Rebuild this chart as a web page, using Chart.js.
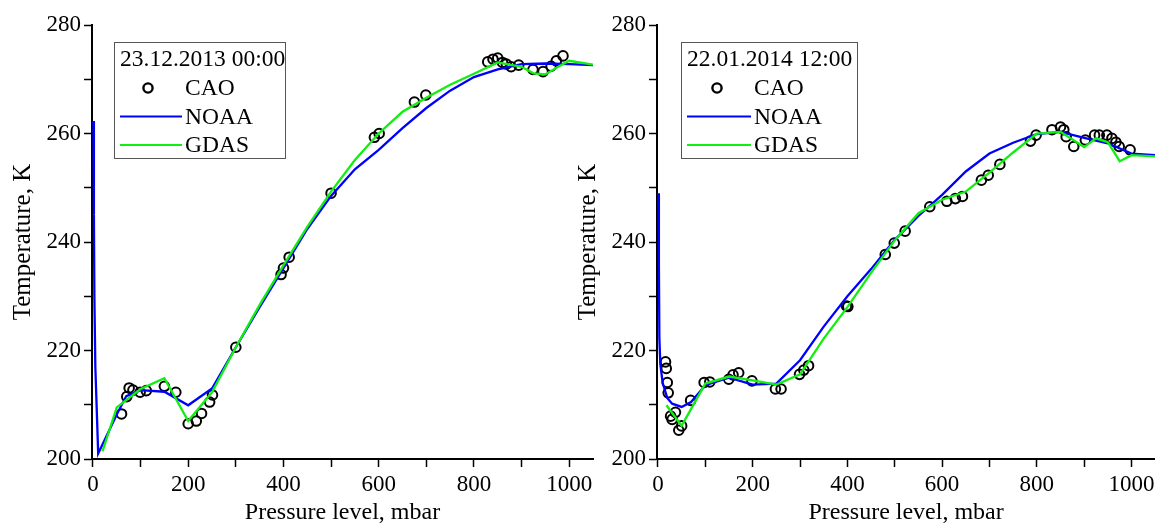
<!DOCTYPE html>
<html>
<head>
<meta charset="utf-8">
<script src="https://cdn.jsdelivr.net/npm/chart.js@4.4.1/dist/chart.umd.min.js"></script>
<style>
  body { margin: 0; background: #fff; overflow: hidden; }
  .panel { position: absolute; top: 0; }
</style>
</head>
<body>
<div class="panel" style="left:0"><canvas id="chartLeft" width="600" height="527"></canvas></div>
<div class="panel" style="left:565px"><canvas id="chartRight" width="597" height="527"></canvas></div>
<script>
// 23.12.2013 00:00
const leftCaoP = [60, 71, 76, 84, 99, 112, 150, 174, 200, 217, 228, 245, 251, 300, 395, 400, 412, 500, 591, 601, 675, 699, 829, 840, 850, 860, 868, 878, 894, 924, 945, 962, 973, 987];
const leftCaoT = [208.3, 211.5, 213.1, 212.7, 212.3, 212.6, 213.4, 212.3, 206.5, 207.0, 208.4, 210.5, 211.8, 220.6, 234.0, 235.2, 237.2, 249.0, 259.3, 260.0, 265.8, 267.1, 273.2, 273.7, 273.9, 273.1, 272.8, 272.3, 272.6, 271.8, 271.4, 272.4, 273.4, 274.3];
const leftNoaaP = [1, 2, 3, 5, 11, 50, 70, 100, 150, 200, 250, 300, 350, 400, 450, 500, 550, 600, 650, 700, 750, 800, 850, 900, 950, 1000, 1050];
const leftNoaaT = [262.3, 245, 230, 217, 201, 208.2, 211.6, 212.7, 212.4, 209.9, 213.0, 220.6, 228.0, 235.2, 242.4, 248.5, 253.4, 257.0, 261.0, 264.7, 267.9, 270.4, 271.8, 272.8, 272.9, 272.8, 272.6];
const leftGdasP = [20, 50, 100, 150, 200, 250, 300, 350, 400, 450, 500, 550, 600, 650, 700, 750, 800, 850, 900, 925, 950, 975, 1000, 1050];
const leftGdasT = [201.4, 209.5, 212.9, 214.9, 207.0, 212.3, 220.6, 228.4, 235.7, 242.8, 249.3, 255.1, 260.0, 264.0, 266.6, 269.0, 271.0, 273.1, 272.3, 271.1, 270.9, 272.2, 273.4, 272.7];

// 22.01.2014 12:00
const rightCaoP = [16, 17.5, 19.7, 21.7, 26.7, 30, 37, 44, 50, 69, 97.5, 109.5, 149.5, 158.5, 170.5, 198.5, 248, 260, 299, 308, 318, 398, 401, 480, 499, 522, 574, 610, 628, 643, 683, 697.5, 722, 786.7, 798.5, 832, 850, 857, 862, 878, 902.5, 922, 932, 948, 958.6, 967, 974, 997];
const rightCaoT = [217.9, 216.7, 214.1, 212.2, 207.9, 207.3, 208.6, 205.3, 206.1, 210.8, 214.1, 214.2, 214.7, 215.5, 215.9, 214.4, 212.9, 212.9, 215.6, 216.4, 217.2, 228.2, 228.1, 237.7, 239.8, 242.0, 246.5, 247.5, 248.0, 248.4, 251.4, 252.3, 254.3, 258.6, 259.7, 260.7, 261.2, 260.7, 259.4, 257.6, 258.8, 259.7, 259.7, 259.7, 259.1, 258.4, 257.6, 257.0];
const rightNoaaP = [1, 2, 3, 5, 10, 20, 30, 50, 70, 100, 150, 200, 250, 300, 350, 400, 450, 500, 550, 600, 650, 700, 750, 800, 850, 900, 950, 1000, 1050];
const rightNoaaT = [249.0, 236, 222.4, 217.5, 214.0, 211.2, 210.2, 209.6, 210.5, 213.6, 215.0, 213.7, 213.9, 218.2, 224.4, 230.0, 235.0, 240.4, 244.8, 248.7, 253.0, 256.3, 258.3, 259.9, 260.3, 259.2, 258.2, 256.3, 256.0];
const rightGdasP = [18, 50, 100, 150, 200, 250, 300, 350, 400, 450, 500, 550, 600, 650, 700, 750, 800, 850, 900, 925, 950, 975, 1000, 1050];
const rightGdasT = [209.9, 206.1, 213.9, 215.2, 214.5, 213.7, 215.6, 222.2, 228.0, 234.3, 240.3, 245.3, 247.8, 249.3, 252.8, 256.5, 260.0, 260.3, 257.5, 259.1, 258.4, 254.9, 256.0, 255.8];

const serif = '"Liberation Serif", "Times New Roman", serif';

function toPoints(px, ty) {
    return px.map((p, i) => ({ x: p, y: ty[i] }));
}

// legend box drawn inside the plot area, top left
const legendBox = {
    id: 'legendBox',
    afterDatasetsDraw(chart, args, opts) {
        const ctx = chart.ctx;
        const area = chart.chartArea;
        const x = area.left + opts.dx;
        const y = area.top + 17;
        ctx.save();
        ctx.fillStyle = '#fff';
        ctx.fillRect(x, y, opts.w, 116);
        ctx.strokeStyle = '#555';
        ctx.lineWidth = 1;
        ctx.strokeRect(x + 0.5, y + 0.5, opts.w, 116);
        ctx.font = '23.5px ' + serif;
        ctx.fillStyle = '#000';
        ctx.textBaseline = 'middle';
        ctx.fillText(opts.title, x + 6, y + 18);
        chart.data.datasets.forEach((ds, i) => {
            const cy = y + 46 + i * 28.5;
            if (ds.showLine) {
                ctx.strokeStyle = ds.borderColor;
                ctx.lineWidth = 2;
                ctx.beginPath();
                ctx.moveTo(x + 6, cy);
                ctx.lineTo(x + opts.textX - 3, cy);
                ctx.stroke();
            } else {
                ctx.strokeStyle = '#000';
                ctx.lineWidth = 2.4;
                ctx.beginPath();
                ctx.arc(x + opts.textX - 37, cy, 4.6, 0, Math.PI * 2);
                ctx.stroke();
            }
            ctx.fillStyle = '#000';
            ctx.fillText(ds.label, x + opts.textX, cy + 1);
        });
        ctx.restore();
    }
};

function makeChart(id, cao, noaa, gdas, legendOpts, padRight) {
    const ctx = document.getElementById(id).getContext('2d');
    return new Chart(ctx, {
        type: 'scatter',
        data: {
            datasets: [{
                label: 'CAO',
                data: cao,
                showLine: false,
                pointStyle: 'circle',
                pointRadius: 4.8,
                pointBorderWidth: 2,
                pointBorderColor: '#000',
                pointBackgroundColor: 'rgba(0,0,0,0)',
                order: 2
            }, {
                label: 'NOAA',
                data: noaa,
                showLine: true,
                borderColor: '#0000ff',
                borderWidth: 2.3,
                pointRadius: 0,
                tension: 0,
                order: 1
            }, {
                label: 'GDAS',
                data: gdas,
                showLine: true,
                borderColor: '#11ee11',
                borderWidth: 2.3,
                pointRadius: 0,
                tension: 0,
                order: 0
            }]
        },
        options: {
            responsive: false,
            animation: false,
            devicePixelRatio: 1,
            layout: { padding: { top: 25, right: padRight, bottom: 0, left: 0 } },
            plugins: {
                legend: { display: false },
                tooltip: { enabled: false },
                legendBox: legendOpts
            },
            scales: {
                x: {
                    type: 'linear',
                    min: -2,
                    max: 1050,
                    afterFit(scale) { scale.height = 68; },
                    border: { color: '#000', width: 2 },
                    grid: { drawOnChartArea: false, tickLength: 8, tickColor: '#000', tickWidth: 1.5 },
                    ticks: {
                        stepSize: 100,
                        includeBounds: false,
                        maxRotation: 0,
                        autoSkip: false,
                        padding: 4,
                        color: '#000',
                        font: { family: serif, size: 23 },
                        callback: v => (v % 200 === 0 ? v : '')
                    },
                    title: {
                        display: true,
                        text: 'Pressure level, mbar',
                        color: '#000',
                        font: { family: serif, size: 24 },
                        padding: { top: 0, bottom: 0 }
                    }
                },
                y: {
                    type: 'linear',
                    min: 200,
                    max: 280,
                    afterFit(scale) { scale.width = 92; },
                    border: { color: '#000', width: 2 },
                    grid: { drawOnChartArea: false, tickLength: 8, tickColor: '#000', tickWidth: 1.5 },
                    ticks: {
                        stepSize: 10,
                        autoSkip: false,
                        padding: 3,
                        color: '#000',
                        font: { family: serif, size: 23 },
                        callback: v => (v % 20 === 0 ? v : '')
                    },
                    title: {
                        display: true,
                        text: 'Temperature, K',
                        color: '#000',
                        font: { family: serif, size: 25 },
                        padding: { top: 8, bottom: 0 }
                    }
                }
            }
        },
        plugins: [legendBox]
    });
}

makeChart('chartLeft',
    toPoints(leftCaoP, leftCaoT),
    toPoints(leftNoaaP, leftNoaaT),
    toPoints(leftGdasP, leftGdasT),
    { title: '23.12.2013 00:00', dx: 22, w: 171, textX: 71 }, 7);

makeChart('chartRight',
    toPoints(rightCaoP, rightCaoT),
    toPoints(rightNoaaP, rightNoaaT),
    toPoints(rightGdasP, rightGdasT),
    { title: '22.01.2014 12:00', dx: 24, w: 176, textX: 73 }, 0);
</script>
</body>
</html>
